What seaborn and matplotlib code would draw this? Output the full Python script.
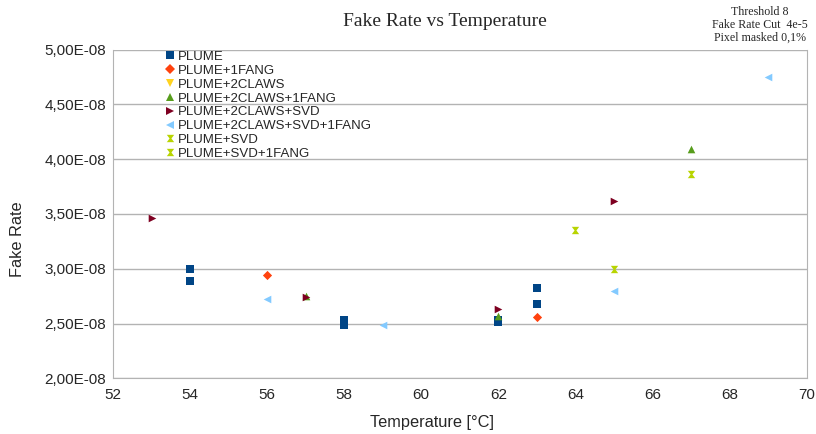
import numpy as np
import pandas as pd
import seaborn as sns
import matplotlib.pyplot as plt
from matplotlib.lines import Line2D
from matplotlib.ticker import FuncFormatter

# data
series_names = ["PLUME", "PLUME+1FANG", "PLUME+2CLAWS", "PLUME+2CLAWS+1FANG",
                "PLUME+2CLAWS+SVD", "PLUME+2CLAWS+SVD+1FANG", "PLUME+SVD", "PLUME+SVD+1FANG"]
plume_t = [54, 54, 58, 58, 62, 62, 63, 63]
plume_r = [3.00e-8, 2.89e-8, 2.53e-8, 2.49e-8, 2.53e-8, 2.51e-8, 2.82e-8, 2.68e-8]
fang_t = [56, 63]
fang_r = [2.94e-8, 2.56e-8]
claws_t = []
claws_r = []
claws_fang_t = [57, 62, 67]
claws_fang_r = [2.75e-8, 2.57e-8, 4.09e-8]
claws_svd_t = [53, 57, 62, 65]
claws_svd_r = [3.46e-8, 2.74e-8, 2.63e-8, 3.62e-8]
claws_svd_fang_t = [56, 59, 65, 69]
claws_svd_fang_r = [2.72e-8, 2.49e-8, 2.80e-8, 4.75e-8]
svd_t = [64, 65]
svd_r = [3.35e-8, 3.00e-8]
svd_fang_t = [67]
svd_fang_r = [3.86e-8]

temps = [plume_t, fang_t, claws_t, claws_fang_t, claws_svd_t, claws_svd_fang_t, svd_t, svd_fang_t]
rates = [plume_r, fang_r, claws_r, claws_fang_r, claws_svd_r, claws_svd_fang_r, svd_r, svd_fang_r]

colors = ["#004586", "#ff420e", "#ffd320", "#579d1c", "#7e0021", "#83caff", "#b8d400", "#b8d400"]
hourglass = [(-1, 1), (1, 1), (0.25, 0), (1, -1), (-1, -1), (-0.25, 0), (-1, 1)]
markers = ["s", "D", "v", "^", ">", "<", hourglass, hourglass]
sizes = [30, 22, 30, 30, 30, 30, 28, 28]

sns.set_style("white")
plt.rcParams["font.family"] = ["Liberation Sans", "DejaVu Sans"]

fig = plt.figure(figsize=(8.16, 4.34), dpi=100)
ax = fig.add_axes([113 / 816, 1 - 378.3 / 434, 693.5 / 816, 328.8 / 434])

handles = []
for name, t, r, c, m, s in zip(series_names, temps, rates, colors, markers, sizes):
    if len(t):
        df = pd.DataFrame({"Temperature": t, "Rate": r})
        sns.scatterplot(data=df, x="Temperature", y="Rate", color=c, marker=m, s=s,
                        linewidth=0, ax=ax, legend=False)
    handles.append(Line2D([], [], linestyle="none", marker=m, color=c,
                          markersize=np.sqrt(s), markeredgewidth=0, label=name))

ax.set_xlim(52, 70)
ax.set_ylim(2.0e-8, 5.0e-8)
ax.set_xticks(np.arange(52, 71, 2))
ax.set_yticks(np.arange(2.0e-8, 5.01e-8, 0.5e-8))
ax.yaxis.set_major_formatter(FuncFormatter(
    lambda v, p: ("%.2fE-08" % (v * 1e8)).replace(".", ",")))
ax.yaxis.grid(True, color="#b3b3b3", linewidth=1)
ax.xaxis.grid(False)
for side in ["left", "bottom", "right", "top"]:
    ax.spines[side].set_color("#b3b3b3")
ax.spines["top"].set_visible(False)
ax.tick_params(axis="both", which="both", length=4, color="#b3b3b3", width=1,
               labelsize=11, pad=1)
ax.tick_params(axis="x", pad=3)

ax.set_xlabel("Temperature [°C]", fontsize=11.8)
ax.set_ylabel("Fake Rate", fontsize=11.8)
ax.xaxis.set_label_coords((432 - 113) / 693.5, -(422 - 378.3) / 328.8)
ax.yaxis.set_label_coords(-(113 - 18) / 693.5, (378.3 - 239) / 328.8)
ax.xaxis.label.set_va("center")
ax.yaxis.label.set_va("center")

fig.text(445 / 816, 1 - 22 / 434, "Fake Rate vs Temperature", ha="center", va="center",
         fontsize=14, family=["Liberation Serif", "DejaVu Serif"])
fig.text(760 / 816, 1 - 25 / 434, "Threshold 8\nFake Rate Cut  4e-5\nPixel masked 0,1%",
         ha="center", va="center", fontsize=8.6, linespacing=1.1,
         family=["Liberation Serif", "DejaVu Serif"])

ax.legend(handles=handles, loc="upper left", bbox_to_anchor=(0.065, 1.012), frameon=False,
          fontsize=9.5, handletextpad=0.1, labelspacing=0.12,
          handlelength=1.0, borderaxespad=0)

fig.savefig("out.png", dpi=100)
